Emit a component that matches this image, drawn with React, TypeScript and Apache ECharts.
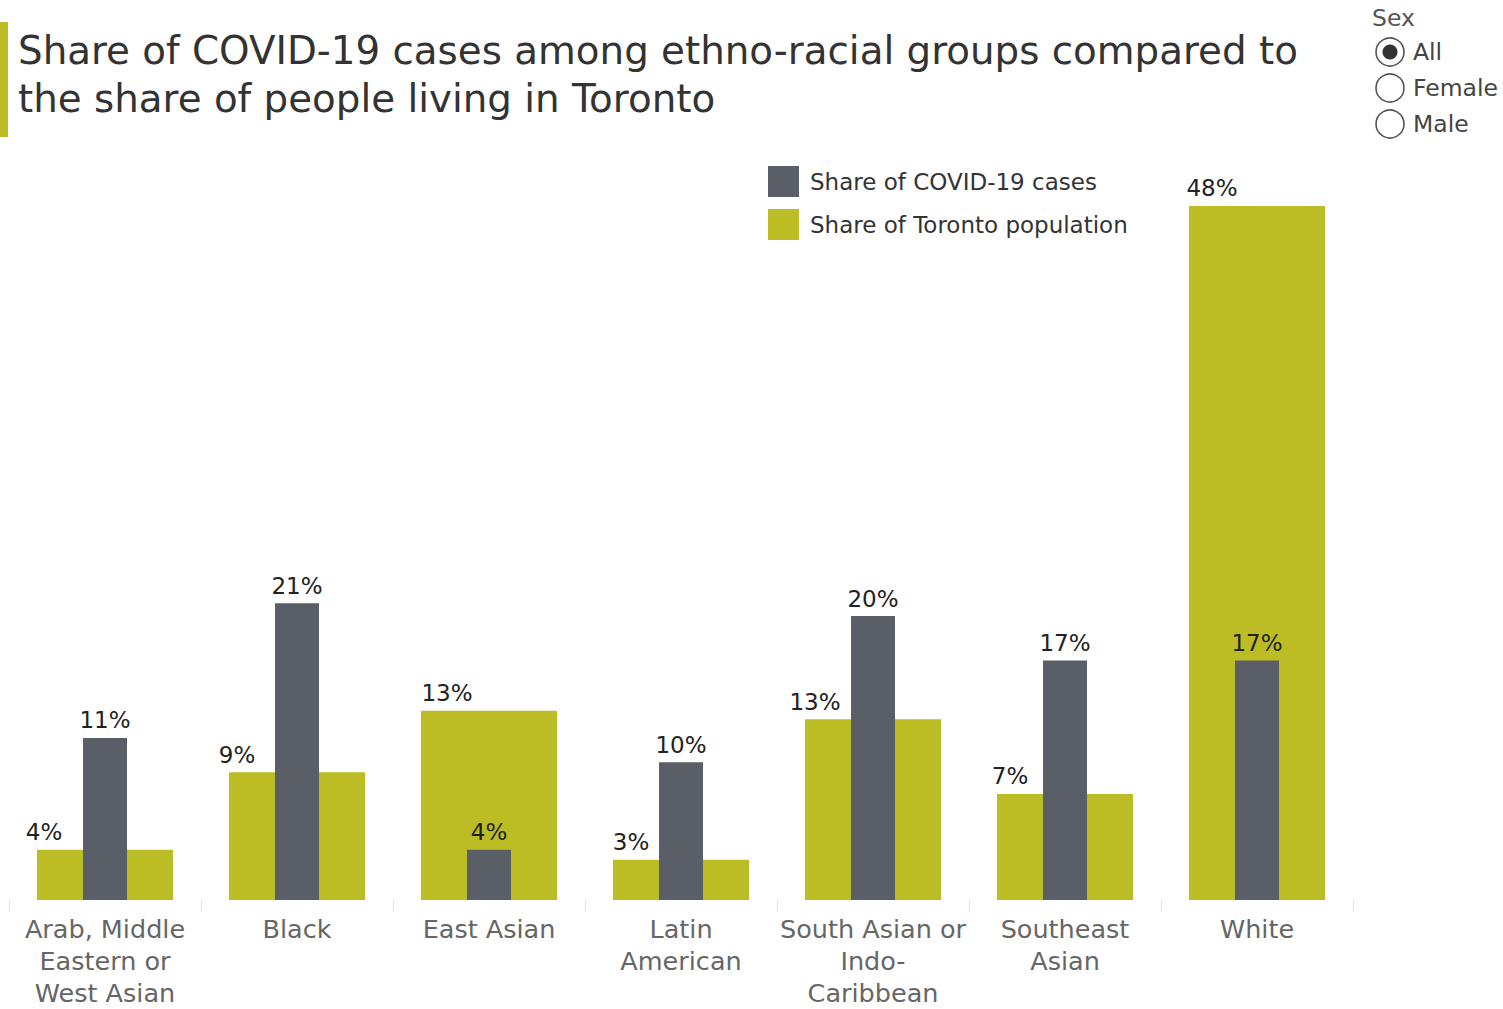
import React, { useEffect, useRef } from "react";
import * as echarts from "echarts";

const categories = [
  "Arab, Middle\nEastern or\nWest Asian",
  "Black",
  "East Asian",
  "Latin\nAmerican",
  "South Asian or\nIndo-\nCaribbean",
  "Southeast\nAsian",
  "White",
];
const casesShare = [11.3, 20.7, 3.5, 9.6, 19.8, 16.7, 16.7];
const populationShare = [3.5, 8.9, 13.2, 2.8, 12.6, 7.4, 48.4];
const seriesNames = ["Share of COVID-19 cases", "Share of Toronto population"];
const sexOptions = ["All", "Female", "Male"];

const OLIVE = "#bcbd24";
const DARK = "#5a5e66";
const FONT = "DejaVu Sans";

// label horizontal shifts for population labels (layout only)
const popLabelShift = [-61, -60, -42, -50, -58, -55, -45];

export default function App() {
  const ref = useRef<HTMLDivElement>(null);
  useEffect(() => {
    document.body.style.margin = "0";
    const chart = echarts.init(ref.current!, null, { renderer: "svg" });
    const fmt = (v: number) => Math.round(v) + "%";

    const radioGraphics: any[] = [];
    sexOptions.forEach((s, i) => {
      const cy = 52 + i * 36;
      radioGraphics.push({
        type: "circle",
        shape: { cx: 1390, cy, r: 14 },
        style: { fill: "#fff", stroke: "#555", lineWidth: 1.6 },
      });
      if (i === 0) {
        radioGraphics.push({
          type: "circle",
          shape: { cx: 1390, cy, r: 7.5 },
          style: { fill: "#333" },
        });
      }
      radioGraphics.push({
        type: "text",
        x: 1413,
        y: cy,
        style: {
          text: s,
          fontFamily: FONT,
          fontSize: 23.5,
          fill: "#444",
          verticalAlign: "middle",
          align: "left",
        },
      });
    });

    chart.setOption({
      animation: false,
      backgroundColor: "#fff",
      grid: { left: 9, right: 150, top: 183, bottom: 103 },
      legend: {
        orient: "vertical",
        left: 768,
        top: 166,
        padding: 0,
        itemWidth: 31,
        itemHeight: 31,
        itemGap: 12,
        icon: "rect",
        selectedMode: false,
        data: [seriesNames[0], seriesNames[1]],
        textStyle: {
          fontFamily: FONT,
          fontSize: 23,
          color: "#333",
          padding: [0, 0, 0, 6],
        },
      },
      xAxis: [
        {
          type: "category",
          data: categories,
          axisLine: { show: false },
          axisTick: {
            show: true,
            length: 12,
            lineStyle: { color: "#e2e2e2", width: 1 },
          },
          axisLabel: {
            fontFamily: FONT,
            fontSize: 25.5,
            lineHeight: 32,
            color: "#666",
            margin: 13,
            interval: 0,
          },
        },
        {
          type: "category",
          data: categories,
          show: false,
        },
      ],
      yAxis: {
        type: "value",
        min: 0,
        max: 50,
        show: false,
        splitLine: { show: false },
      },
      series: [
        {
          name: seriesNames[1],
          type: "bar",
          xAxisIndex: 0,
          barWidth: 136,
          itemStyle: { color: OLIVE },
          data: populationShare.map((v, i) => ({
            value: v,
            label: { offset: [popLabelShift[i], 0] },
          })),
          label: {
            show: true,
            position: "top",
            distance: 6,
            formatter: (p: any) => fmt(p.value),
            fontFamily: FONT,
            fontSize: 23,
            color: "#222",
          },
        },
        {
          name: seriesNames[0],
          type: "bar",
          xAxisIndex: 1,
          barWidth: 44,
          itemStyle: { color: DARK },
          data: casesShare,
          label: {
            show: true,
            position: "top",
            distance: 6,
            formatter: (p: any) => fmt(p.value),
            fontFamily: FONT,
            fontSize: 23,
            color: "#222",
          },
        },
      ],
      graphic: [
        {
          type: "rect",
          shape: { x: 0, y: 22, width: 8, height: 115 },
          style: { fill: OLIVE },
        },
        {
          type: "text",
          x: 18,
          y: 50,
          style: {
            text: "Share of COVID-19 cases among ethno-racial groups compared to",
            fontFamily: FONT,
            fontSize: 38.8,
            fill: "#333",
            verticalAlign: "middle",
          },
        },
        {
          type: "text",
          x: 18,
          y: 98,
          style: {
            text: "the share of people living in Toronto",
            fontFamily: FONT,
            fontSize: 38.8,
            fill: "#333",
            verticalAlign: "middle",
          },
        },
        {
          type: "text",
          x: 1372,
          y: 18,
          style: {
            text: "Sex",
            fontFamily: FONT,
            fontSize: 23.5,
            fill: "#555",
            verticalAlign: "middle",
          },
        },
        ...radioGraphics,
      ],
    });
    return () => chart.dispose();
  }, []);
  return <div ref={ref} style={{ width: 1503, height: 1009 }} />;
}
